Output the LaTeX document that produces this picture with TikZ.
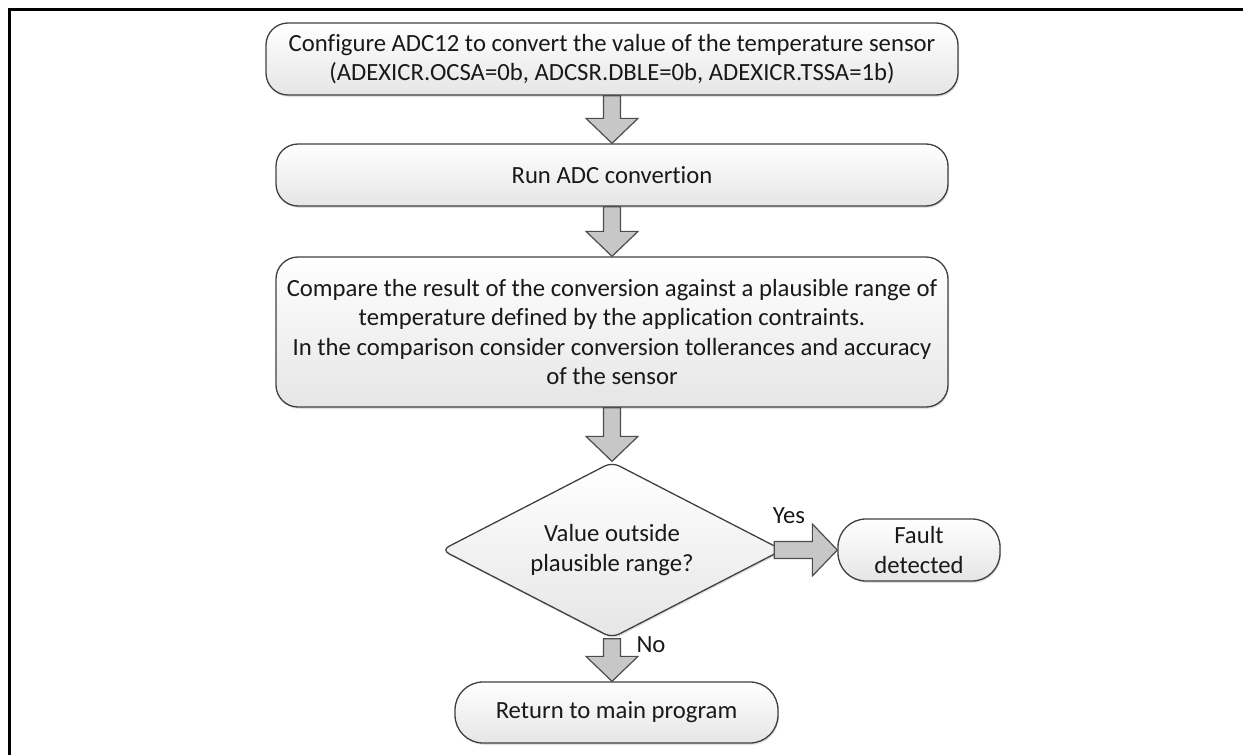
\documentclass[tikz,border=0pt]{standalone}
\usepackage{fontspec}
\setmainfont{Carlito}[Ligatures=NoCommon]
\usetikzlibrary{shapes.geometric,shadows,calc}
\tikzset{
  boxstyle/.style={draw=black!75, line width=1.3pt, rounded corners=22pt,
    top color=white, bottom color=black!10,
    drop shadow={shadow xshift=1pt, shadow yshift=-1.8pt, opacity=0.25},
    align=center, inner sep=0pt, text=black!90},
  txt/.style={font=\fontsize{24.7}{29.3}\selectfont},
  blockarrow/.style={draw=black!70, line width=1.2pt, fill=black!22, line join=miter},
  frameline/.style={line width=2.5pt, black},
}
\newcommand\vblock[2]{\path[blockarrow] let \p1=#1, \p2=#2 in
  (\x1-8.5pt,\y1) -- (\x1-8.5pt,\y2+25pt) -- (\x1-26pt,\y2+25pt) -- (\x1,\y2)
  -- (\x1+26pt,\y2+25pt) -- (\x1+8.5pt,\y2+25pt) -- (\x1+8.5pt,\y1) -- cycle;}
\newcommand\hblock[2]{\path[blockarrow] let \p1=#1, \p2=#2 in
  (\x1,\y1+8.5pt) -- (\x2-25pt,\y1+8.5pt) -- (\x2-25pt,\y1+26pt) -- (\x2,\y1)
  -- (\x2-25pt,\y1-26pt) -- (\x2-25pt,\y1-8.5pt) -- (\x1,\y1-8.5pt) -- cycle;}
\begin{document}
\begin{tikzpicture}[x=1pt,y=-1pt]
\useasboundingbox (0,0) rectangle (1243,755);
\draw[frameline] (9.5,755) -- (9.5,9.5) -- (1243,9.5);

\node[boxstyle, txt, minimum width=692pt, minimum height=72pt] (b1) at (612,59)
  {Configure ADC12 to convert the value of the temperature sensor\\(ADEXICR.OCSA=0b, ADCSR.DBLE=0b, ADEXICR.TSSA=1b)};
\node[boxstyle, txt, minimum width=672pt, minimum height=62pt] (b2) at (612,175)
  {Run ADC convertion};
\node[boxstyle, txt, minimum width=672pt, minimum height=150pt] (b3) at (612,332)
  {Compare the result of the conversion against a plausible range of\\temperature defined by the application contraints.\\In the comparison consider conversion tollerances and accuracy\\of the sensor};
\node[boxstyle, txt, diamond, aspect=1.95, rounded corners=8pt, minimum width=341pt, minimum height=176pt] (dec) at (612,550)
  {Value outside\\plausible range?};
\coordinate (decr) at ($(dec.east)+(-9,0)$);
\node[boxstyle, txt, rounded corners=28pt, minimum width=162pt, minimum height=62pt] (fault) at (919,550)
  {Fault\\detected};
\node[boxstyle, txt, rounded corners=28pt, minimum width=323pt, minimum height=61pt] (ret) at (616.5,712.5)
  {Return to main program};

\vblock{(b1.south -| dec.north)}{(b2.north -| dec.north)}
\vblock{(b2.south -| dec.north)}{(b3.north -| dec.north)}
\vblock{(b3.south -| dec.north)}{(dec.north)}
\hblock{(decr)}{(fault.west)}
\vblock{(dec.south)}{(ret.north -| dec.south)}

\node[txt, text=black!90, inner sep=0pt] (yes) at (789,516) {Yes};
\node[txt, text=black!90, inner sep=0pt] (no) at (651,645) {No};
\end{tikzpicture}
\end{document}
